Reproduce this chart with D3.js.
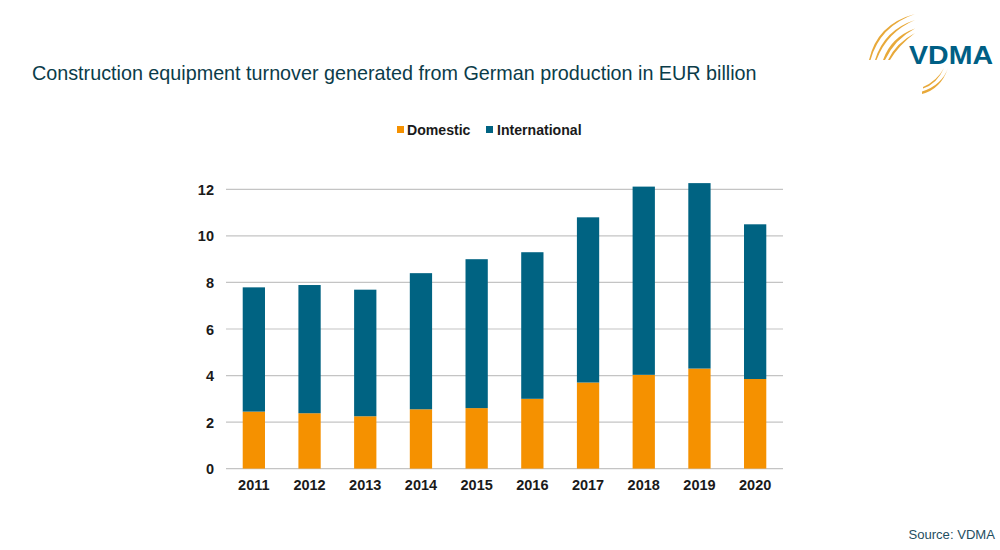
<!DOCTYPE html>
<html>
<head>
<meta charset="utf-8">
<script src="https://cdn.jsdelivr.net/npm/d3@7"></script>
<style>
	html, body { margin: 0; padding: 0; background: #fff; }
	svg { display: block; font-family: "Liberation Sans", Arial, sans-serif; }
</style>
</head>
<body>
<div id="chart"></div>
<script>
var years = ['2011', '2012', '2013', '2014', '2015', '2016', '2017', '2018', '2019', '2020'];
var domestic = [2.45, 2.38, 2.25, 2.55, 2.6, 3.0, 3.7, 4.03, 4.3, 3.85];
var international = [5.34, 5.51, 5.44, 5.85, 6.4, 6.3, 7.1, 8.09, 7.97, 6.65];
var yTicks = [0, 2, 4, 6, 8, 10, 12];
var seriesNames = ['Domestic', 'International'];
var seriesColors = ['#f59100', '#006382'];

var svg = d3.select('#chart').append('svg')
	.attr('width', 1000)
	.attr('height', 550);

var x = d3.scaleBand().domain(years).range([226, 783]).paddingInner(0.6).paddingOuter(0.3);
var y = d3.scaleLinear().domain([0, 12]).range([468.6, 189.4]);

// gridlines
svg.append('g').selectAll('line')
	.data(yTicks)
	.join('line')
	.attr('x1', 226)
	.attr('x2', 783)
	.attr('y1', d => y(d))
	.attr('y2', d => y(d))
	.attr('stroke', '#c4c4c4')
	.attr('stroke-width', 1.2);

// stacked bars
var rows = years.map((yr, i) => ({year: yr, Domestic: domestic[i], International: international[i]}));
var stacked = d3.stack().keys(seriesNames)(rows);

svg.append('g').selectAll('g')
	.data(stacked)
	.join('g')
	.attr('fill', (d, i) => seriesColors[i])
	.selectAll('rect')
	.data(d => d)
	.join('rect')
	.attr('x', d => x(d.data.year))
	.attr('width', x.bandwidth())
	.attr('y', d => y(d[1]))
	.attr('height', d => y(d[0]) - y(d[1]));

// axis labels
svg.append('g').selectAll('text')
	.data(yTicks)
	.join('text')
	.attr('x', 214)
	.attr('y', d => y(d) + 5.5)
	.attr('text-anchor', 'end')
	.attr('font-size', 14.5)
	.attr('font-weight', 'bold')
	.attr('fill', '#1a1a1a')
	.text(d => d);

svg.append('g').selectAll('text')
	.data(years)
	.join('text')
	.attr('x', d => x(d) + x.bandwidth() / 2)
	.attr('y', 490)
	.attr('text-anchor', 'middle')
	.attr('font-size', 14.5)
	.attr('font-weight', 'bold')
	.attr('fill', '#1a1a1a')
	.text(d => d);

// title and source
svg.append('text')
	.attr('x', 32)
	.attr('y', 80)
	.attr('font-size', 19.75)
	.attr('fill', '#0b3c49')
	.text('Construction equipment turnover generated from German production in EUR billion');

svg.append('text')
	.attr('x', 995)
	.attr('y', 539)
	.attr('text-anchor', 'end')
	.attr('font-size', 13.1)
	.attr('fill', '#1f4e5f')
	.text('Source: VDMA');

// legend
var legendX = [397, 486];
seriesNames.forEach(function(name, i) {
	svg.append('rect')
		.attr('x', legendX[i])
		.attr('y', 126)
		.attr('width', 7)
		.attr('height', 7)
		.attr('fill', seriesColors[i]);
	svg.append('text')
		.attr('x', legendX[i] + (i ? 11 : 10))
		.attr('y', 134.5)
		.attr('font-size', 14.1)
		.attr('font-weight', 'bold')
		.attr('fill', '#1a1a1a')
		.text(name);
});

// logo
var logo = svg.append('g');
var arcs = [
	'M869,60 Q877,24 915,14 Q880,26 870.5,60 Z',
	'M875,60 Q884,30 915,20 Q887,32 876.5,60 Z',
	'M883,60 Q891,37 915,28.5 Q895,39 885,60 Z',
	'M888,60 Q896,43 915,33 Q899,45 890,60 Z',
	'M922,94 Q941,89 948,68 Q942,85 922,91.5 Z',
	'M923,88.5 Q937,84 944,68 Q937,81 923,87 Z'
];
logo.selectAll('path')
	.data(arcs)
	.join('path')
	.attr('d', d => d)
	.attr('fill', '#e8a93a');
logo.append('text')
	.attr('x', 909)
	.attr('y', 64)
	.attr('font-size', 26)
	.attr('font-weight', 'bold')
	.attr('fill', '#005f85')
	.attr('textLength', 84)
	.attr('lengthAdjust', 'spacingAndGlyphs')
	.text('VDMA');
</script>
</body>
</html>
